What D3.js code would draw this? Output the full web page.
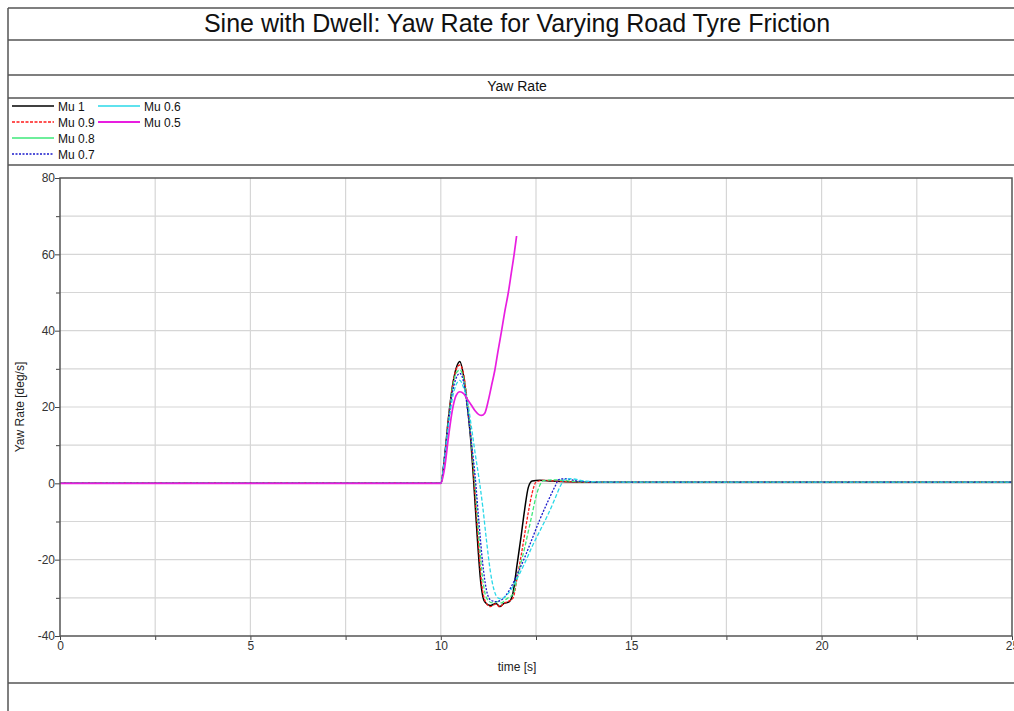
<!DOCTYPE html>
<html><head><meta charset="utf-8">
<script src="https://cdn.jsdelivr.net/npm/d3@7"></script>
<style>body{margin:0;background:#fff}svg{display:block}text{font-family:"Liberation Sans",Arial,sans-serif}</style>
</head><body><svg id="c" width="1014" height="711"></svg>
<script>
const chartTitle = "Sine with Dwell: Yaw Rate for Varying Road Tyre Friction";
const subTitle = "Yaw Rate";
const xLabel = "time [s]";
const yLabel = "Yaw Rate [deg/s]";
const xTicks = [0, 5, 10, 15, 20, 25];
const yTicks = [-40, -20, 0, 20, 40, 60, 80];
const seriesNames = ["Mu 1", "Mu 0.9", "Mu 0.8", "Mu 0.7", "Mu 0.6", "Mu 0.5"];

const tMu1 = [0,10,10.1,10.2,10.3,10.4,10.5,10.6,10.7,10.78,10.86,10.95,11.05,11.15,11.3,11.45,11.55,11.65,11.8,11.9,12.0,12.1,12.2,12.3,12.4,12.6,12.9,13.3,14,25];
const vMu1 = [0,0,7,17,25,30,31.9,28,20,12,1,-13,-26,-31,-32,-31.5,-32.3,-31.5,-31,-28.5,-21.5,-14.5,-7,-1,0.6,0.8,0.6,0.4,0.3,0.3];

const tMu09 = [0,10,10.1,10.2,10.3,10.4,10.5,10.6,10.7,10.8,10.88,10.97,11.07,11.17,11.3,11.45,11.55,11.65,11.8,11.9,12.0,12.1,12.2,12.3,12.4,12.5,12.7,13.0,14,25];
const vMu09 = [0,0,7,17,25,29.8,31.0,28.5,21,11,0,-13,-26,-31,-32.3,-31.6,-32.4,-31.5,-30.8,-30,-25,-19.5,-13.5,-7.5,-2.5,0.3,0.8,0.6,0.3,0.3];

const tMu08 = [0,10,10.1,10.2,10.3,10.4,10.5,10.6,10.7,10.8,10.9,11.0,11.1,11.2,11.35,11.5,11.6,11.7,11.8,11.9,12.0,12.1,12.2,12.3,12.4,12.5,12.6,12.7,13.0,13.5,14,25];
const vMu08 = [0,0,7,16.5,24.5,28.8,29.7,27.5,20.5,11,-0.5,-14,-25,-30,-31.3,-31,-31.3,-30.5,-29.8,-29,-25,-21,-17,-12.5,-8,-3.5,-0.5,0.7,0.9,0.5,0.3,0.3];

const tMu07 = [0,10,10.1,10.2,10.3,10.4,10.5,10.6,10.7,10.8,10.9,11.0,11.1,11.2,11.3,11.45,11.6,11.7,11.8,12.0,12.2,12.4,12.6,12.8,13.0,13.1,13.25,13.6,14.2,25];
const vMu07 = [0,0,7,16,23.5,27.5,28.8,26.5,19.5,11,2,-10,-21,-28,-30.5,-31,-30.5,-29.5,-28,-24,-19.5,-14.5,-9.5,-5,-0.8,1,1.2,0.6,0.3,0.3];

const tMu06 = [0,10,10.1,10.2,10.3,10.4,10.5,10.6,10.7,10.8,10.9,11.0,11.1,11.2,11.3,11.4,11.5,11.6,11.7,11.8,12.0,12.2,12.4,12.6,12.8,13.0,13.15,13.25,13.4,13.8,14.4,25];
const vMu06 = [0,0,6.5,15,22,25.8,27.0,25,21.5,15,8,1.5,-6,-15,-23,-28,-30,-30.3,-29.5,-28.5,-25,-21,-16.5,-12.5,-8.5,-4,-0.5,1,1.2,0.6,0.3,0.3];

const tMu05 = [0,10,10.1,10.2,10.3,10.4,10.5,10.6,10.7,10.8,10.9,11.0,11.07,11.15,11.25,11.33,11.42,11.5,11.6,11.68,11.77,11.85,11.93,11.99];
const vMu05 = [0,0,4,12,19,23,24,23.5,22,20.5,19,18,17.8,18.3,21.8,25.5,29.7,34.5,40.2,45,49.8,55,60.3,64.8];

const seriesT = [tMu1, tMu09, tMu08, tMu07, tMu06, tMu05];
const seriesV = [vMu1, vMu09, vMu08, vMu07, vMu06, vMu05];
const colors = ["#000000", "#ff1a1a", "#3ee87a", "#1a1acc", "#2ad8e8", "#e81ee0"];
const dashes = [null, "3,1.5", "4,2", "2,1.5", "4,2", null];
const widths = [1.5, 1.3, 1.3, 1.3, 1.3, 1.7];

const svg = d3.select("#c");
svg.append("rect").attr("width",1014).attr("height",711).attr("fill","#fff");

const frame = "#555";
[8, 40, 75, 98, 165, 683].forEach(y => {
  svg.append("line").attr("x1",8).attr("x2",1014).attr("y1",y).attr("y2",y)
    .attr("stroke",frame).attr("stroke-width",1.5);
});
svg.append("line").attr("x1",8).attr("x2",8).attr("y1",8).attr("y2",711).attr("stroke",frame).attr("stroke-width",1.5);

svg.append("text").attr("x",517).attr("y",32).attr("text-anchor","middle")
  .attr("font-size",25).attr("fill","#111").text(chartTitle);
svg.append("text").attr("x",517).attr("y",91).attr("text-anchor","middle")
  .attr("font-size",14).attr("fill","#111").text(subTitle);

seriesNames.forEach((n,i) => {
  const col = i < 4 ? 0 : 1, row = i < 4 ? i : i - 4;
  const x0 = col === 0 ? 12 : 98, y = 106 + row*16;
  svg.append("line").attr("x1",x0).attr("x2",x0+42).attr("y1",y).attr("y2",y)
    .attr("stroke",colors[i]).attr("stroke-width",widths[i]+0.2)
    .attr("stroke-dasharray", (i===1||i===3) ? dashes[i] : null);
  svg.append("text").attr("x",x0+46).attr("y",y+4.5).attr("font-size",12).attr("fill","#111").text(n);
});

const x = d3.scaleLinear().domain([0,25]).range([60,1012]);
const y = d3.scaleLinear().domain([-40,80]).range([636,178]);

const g = svg.append("g");
d3.range(2.5, 25, 2.5).forEach(t => g.append("line").attr("x1",x(t)).attr("x2",x(t)).attr("y1",y(80)).attr("y2",y(-40)).attr("stroke","#d6d6d6").attr("stroke-width",1.2));
d3.range(-30, 80, 10).forEach(v => g.append("line").attr("x1",x(0)).attr("x2",x(25)).attr("y1",y(v)).attr("y2",y(v)).attr("stroke","#d6d6d6").attr("stroke-width",1.2));

const fmt = d => String(d);
const xAxis = d3.axisBottom(x).tickValues(xTicks).tickSize(4).tickFormat(fmt);
const xMinor = d3.axisBottom(x).tickValues(d3.range(2.5,25,5)).tickSize(4).tickFormat("");
const yAxis = d3.axisLeft(y).tickValues(yTicks).tickSize(5).tickFormat(fmt);
const yMinor = d3.axisLeft(y).tickValues(d3.range(-30,80,20)).tickSize(4).tickFormat("");
function styleAxis(sel){
  sel.select(".domain").remove();
  sel.selectAll("line").attr("stroke","#444");
  sel.selectAll("text").attr("fill","#333").attr("font-size",12).style("font-family","Liberation Sans, Arial, sans-serif");
}
svg.append("g").attr("transform","translate(0,636)").call(xAxis).call(styleAxis).selectAll("text").attr("dy","0.6em");
svg.append("g").attr("transform","translate(0,636)").call(xMinor).call(styleAxis);
svg.append("g").attr("transform","translate(60,0)").call(yAxis).call(styleAxis).selectAll("text").attr("x",-5);
svg.append("g").attr("transform","translate(60,0)").call(yMinor).call(styleAxis);

svg.append("text").attr("x",517).attr("y",671).attr("text-anchor","middle").attr("font-size",12).attr("fill","#222").text(xLabel);
svg.append("text").attr("transform","translate(24,407) rotate(-90)").attr("text-anchor","middle").attr("font-size",12).attr("fill","#222").text(yLabel);

svg.append("clipPath").attr("id","pc").append("rect").attr("x",60).attr("y",178).attr("width",952).attr("height",458);
const line = d3.line().curve(d3.curveMonotoneX);
seriesT.forEach((ts,i) => {
  const pts = ts.map((t,k) => [x(t), y(seriesV[i][k])]);
  svg.append("path").attr("d", line(pts)).attr("fill","none").attr("clip-path","url(#pc)")
    .attr("stroke",colors[i]).attr("stroke-width",widths[i]).attr("stroke-dasharray",dashes[i]);
});
svg.append("rect").attr("x",60).attr("y",178).attr("width",952).attr("height",458)
  .attr("fill","none").attr("stroke","#555").attr("stroke-width",1.5);
</script></body></html>
